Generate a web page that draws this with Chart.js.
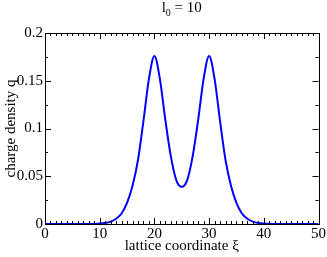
<!DOCTYPE html>
<html>
<head>
<meta charset="utf-8">
<script src="https://cdn.jsdelivr.net/npm/chart.js@4"></script>
<style>
  html, body { margin: 0; padding: 0; background: #fff; }
  #wrap { width: 327px; height: 257px; }
</style>
</head>
<body>
<div id="wrap"><canvas id="myChart" width="327" height="257"></canvas></div>
<script>
// lattice sites and the charge density
const xi = [0, 1, 2, 3, 4, 5, 6, 7, 8, 9, 10, 11, 12, 13, 14, 15, 16, 17, 18, 19, 20,
            21, 22, 23, 24, 25, 26, 27, 28, 29, 30, 31, 32, 33, 34, 35, 36, 37, 38, 39, 40,
            41, 42, 43, 44, 45, 46, 47, 48, 49, 50];
const charge = [0, 0, 0, 0, 0, 0, 0, 0, 0.0001, 0.0002, 0.0005, 0.0011, 0.0025, 0.0055, 0.011, 0.022, 0.040, 0.067, 0.108, 0.152, 0.176,
                0.152, 0.109, 0.071, 0.046, 0.039, 0.046, 0.071, 0.109, 0.152, 0.176, 0.152, 0.108, 0.067, 0.040, 0.022, 0.011, 0.0055, 0.0025, 0.0011, 0.0005,
                0.0002, 0.0001, 0, 0, 0, 0, 0, 0, 0, 0];
const xTicks = [0, 10, 20, 30, 40, 50];
const yTicks = [0, 0.05, 0.1, 0.15, 0.2];

const serif = "'Liberation Serif', 'DejaVu Serif', serif";

// frame with inward ticks on all four sides
const frameTicks = {
  id: 'frameTicks',
  afterDatasetsDraw(chart) {
    const c = chart.ctx, a = chart.chartArea;
    const sx = chart.scales.x, sy = chart.scales.y;
    c.save();
    c.strokeStyle = '#000';
    c.lineWidth = 1;
    c.beginPath();
    for (let v = 0; v <= 50; v++) {
      const px = Math.round(sx.getPixelForValue(v)) + 0.5;
      const len = v % 10 === 0 ? 6 : 3;
      c.moveTo(px, a.bottom); c.lineTo(px, a.bottom - len);
      c.moveTo(px, a.top); c.lineTo(px, a.top + len);
    }
    for (let k = 0; k <= 8; k++) {
      const py = Math.round(sy.getPixelForValue(k * 0.025)) + 0.5;
      const len = k % 2 === 0 ? 6 : 3;
      c.moveTo(a.left, py); c.lineTo(a.left + len, py);
      c.moveTo(a.right, py); c.lineTo(a.right - len, py);
    }
    c.stroke();
    c.strokeRect(Math.round(a.left) + 0.5, Math.round(a.top) + 0.5,
                 Math.round(a.right - a.left), Math.round(a.bottom - a.top));
    // title l_0 = 10
    c.fillStyle = '#000';
    c.textBaseline = 'alphabetic';
    c.textAlign = 'left';
    const big = '15px ' + serif, small = '10px ' + serif;
    c.font = big; const w1 = c.measureText('l').width, w3 = c.measureText(' = 10').width;
    c.font = small; const w2 = c.measureText('0').width;
    let x0 = (a.left + a.right) / 2 - (w1 + w2 + w3) / 2;
    c.font = big; c.fillText('l', x0, 12);
    c.font = small; c.fillText('0', x0 + w1, 16);
    c.font = big; c.fillText(' = 10', x0 + w1 + w2, 12);
    c.restore();
  }
};

var ctx = document.getElementById('myChart');
let myChart = new Chart(ctx, {
  type: 'line',
  data: {
    datasets: [{
      label: 'q',
      data: xi.map((x, i) => ({ x: x, y: charge[i] })),
      borderColor: '#0000ff',
      borderWidth: 2,
      pointRadius: 0,
      cubicInterpolationMode: 'monotone',
      fill: false
    }]
  },
  options: {
    responsive: false,
    animation: false,
    layout: { padding: { top: 33, right: 8, left: 0, bottom: 0 } },
    plugins: { legend: { display: false }, tooltip: { enabled: false } },
    scales: {
      x: {
        type: 'linear', min: 0, max: 50,
        afterBuildTicks: s => { s.ticks = xTicks.map(v => ({ value: v })); },
        afterFit: s => { s.height = 33; },
        grid: { display: false, drawTicks: false },
        border: { display: false },
        ticks: { color: '#000', font: { family: serif, size: 15 }, padding: 1, maxRotation: 0,
                 callback: v => String(v) },
        title: { display: true, text: 'lattice coordinate ξ', color: '#000',
                 font: { family: serif, size: 15 }, padding: { top: 0, bottom: 2 } }
      },
      y: {
        type: 'linear', min: 0, max: 0.2,
        afterBuildTicks: s => { s.ticks = yTicks.map(v => ({ value: v })); },
        afterFit: s => { s.width = 45; },
        grid: { display: false, drawTicks: false },
        border: { display: false },
        ticks: { color: '#000', font: { family: serif, size: 15 }, padding: 2,
                 callback: v => String(+v.toFixed(2)) },
        title: { display: true, text: 'charge density q', color: '#000',
                 font: { family: serif, size: 15 }, padding: { top: 2, bottom: 0 } }
      }
    }
  },
  plugins: [frameTicks]
});
</script>
</body>
</html>
